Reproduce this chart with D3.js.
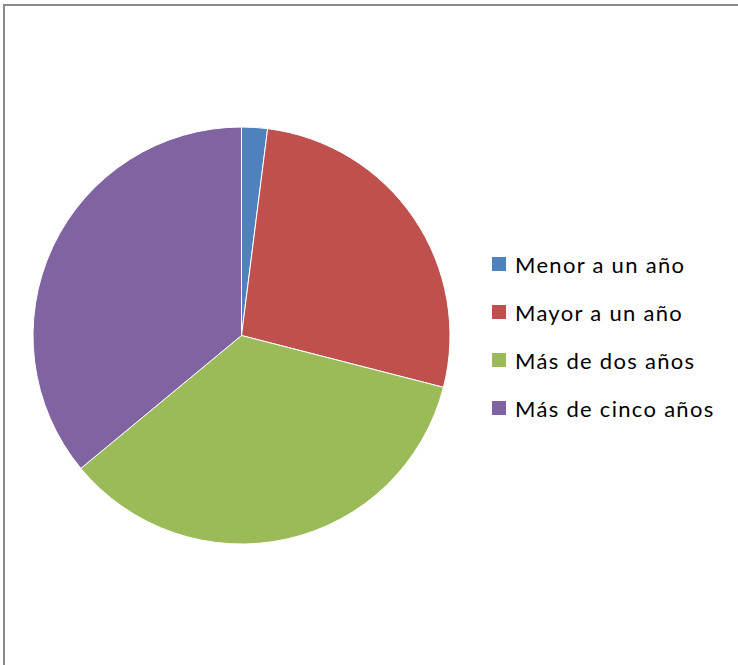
<!DOCTYPE html>
<html>
<head>
<meta charset="utf-8">
<script src="https://cdn.jsdelivr.net/npm/d3@7"></script>
<style>
  html, body { margin: 0; padding: 0; background: #fff; }
  svg { display: block; }
</style>
</head>
<body>
<svg id="chart" width="738" height="665"></svg>
<script>
// Antigüedad: share of each group (percent)
const categories = ["Menor a un año", "Mayor a un año", "Más de dos años", "Más de cinco años"];
const values = [2, 27, 35, 36];
const colors = ["#4F81BD", "#C0504D", "#9BBB59", "#8064A2"];

const svg = d3.select("#chart");

// chart-area frame (top and left edges visible)
svg.append("line").attr("x1", 4).attr("y1", 5).attr("x2", 738).attr("y2", 5)
  .attr("stroke", "#8a8a8a").attr("stroke-width", 2);
svg.append("line").attr("x1", 4).attr("y1", 4).attr("x2", 4).attr("y2", 665)
  .attr("stroke", "#8a8a8a").attr("stroke-width", 2);

const cx = 241.5, cy = 335.5, r = 208.5;

const pie = d3.pie().sort(null).value(d => d.value);
const arc = d3.arc().innerRadius(0).outerRadius(r);
const data = categories.map((c, i) => ({ name: c, value: values[i], color: colors[i] }));

svg.append("g")
  .attr("transform", `translate(${cx},${cy})`)
  .selectAll("path")
  .data(pie(data))
  .join("path")
  .attr("d", arc)
  .attr("fill", d => d.data.color)
  .attr("stroke", "#fff")
  .attr("stroke-width", 1);

// legend
const legend = svg.append("g").attr("transform", "translate(492,257)");
const rows = legend.selectAll("g")
  .data(data)
  .join("g")
  .attr("transform", (d, i) => `translate(0,${i * 48})`);
rows.append("rect")
  .attr("width", 14).attr("height", 14)
  .attr("fill", d => d.color);
rows.append("text")
  .attr("x", 23).attr("y", 16)
  .attr("font-family", "Lato, 'Open Sans', sans-serif")
  .attr("font-size", 22)
  .attr("letter-spacing", "1.3px")
  .attr("fill", "#000")
  .text(d => d.name);
</script>
</body>
</html>
